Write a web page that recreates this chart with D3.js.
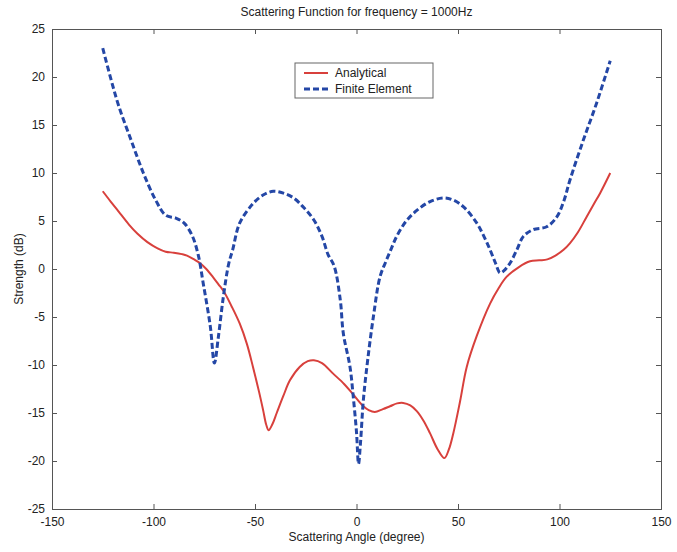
<!DOCTYPE html>
<html><head><meta charset="utf-8">
<script src="https://cdn.jsdelivr.net/npm/d3@7"></script>
<style>body{margin:0;background:#fff}svg{display:block}text{font-family:"Liberation Sans",Arial,sans-serif;fill:#222}</style>
</head><body>
<script>
const xTicks = [-150,-100,-50,0,50,100,150];
const yTicks = [-25,-20,-15,-10,-5,0,5,10,15,20,25];
const seriesNames = ["Analytical","Finite Element"];
const analyticalX = [-125,-121,-116.5,-112,-108,-103,-98,-94,-90,-86,-83.5,-80,-77,-74,-70.5,-68,-65.5,-61.5,-57.5,-54,-51,-48,-46,-44.5,-43.3,-41.5,-39.3,-36,-32.8,-28,-24,-21,-17,-11.5,-6,-1.5,3.4,6,9,13,16.5,20,23,26.5,29.7,33,36.2,40,43.3,45.5,47.7,51,54.3,59.2,65.8,70,74,80,85.5,90,94,98,102,105.2,109,113.4,117,120,125];
const analyticalY = [8.1,7.0,5.8,4.6,3.7,2.8,2.15,1.8,1.7,1.55,1.4,1.0,0.6,0.0,-0.9,-1.6,-2.3,-3.9,-5.7,-7.8,-10.2,-12.8,-14.7,-16.2,-16.8,-16.2,-15.0,-13.2,-11.6,-10.2,-9.6,-9.5,-9.8,-10.9,-12.0,-13.1,-14.3,-14.7,-14.9,-14.6,-14.3,-14.0,-13.95,-14.2,-14.8,-15.8,-17.1,-18.8,-19.7,-18.8,-17.1,-13.8,-10.2,-7.0,-3.6,-2.0,-0.8,0.2,0.8,0.9,1.0,1.4,2.0,2.7,3.8,5.45,6.8,7.9,10.0];
const feX = [-125,-121,-117,-111,-105,-99,-94,-89,-85,-81,-78,-75.5,-72,-70,-68,-65.6,-63,-61,-57.5,-51,-46,-41,-36,-31,-26,-21,-17,-14,-11,-8,-6.5,-3.2,-1.6,0,1,2,3.4,5.5,8.3,11.6,14.5,17.3,19.8,24.5,29.7,36,42.8,47.5,52.6,59.2,63,65.8,68.5,70.7,72.5,75.6,79,82.2,87,93.7,98.6,102,105.2,111.7,118.3,125];
const feY = [23.0,19.8,16.9,13.4,10.0,7.2,5.6,5.3,4.8,3.5,1.5,-1.5,-6.0,-9.8,-7.0,-2.9,0.5,2.0,4.8,6.8,7.7,8.1,7.9,7.4,6.4,5.1,3.4,1.5,0.3,-3.2,-6.7,-10.2,-13.3,-17.0,-20.3,-18.0,-13.6,-9.5,-5.0,-0.8,0.8,2.2,3.4,5.0,6.1,7.0,7.4,7.2,6.5,4.8,3.3,2.0,0.6,-0.4,-0.2,0.6,2.0,3.4,4.1,4.4,5.4,7.0,9.3,13.4,17.3,21.7];

const W=677,H=552, L=52, R=661, T=29, B=509;
const svg=d3.select("body").append("svg").attr("width",W).attr("height",H);
svg.append("rect").attr("width",W).attr("height",H).attr("fill","#fff");
const x=d3.scaleLinear().domain([-150,150]).range([L,R]);
const y=d3.scaleLinear().domain([-25,25]).range([B,T]);

const axisColor="#555";
const tick=5;
const g=svg.append("g");
g.append("g").attr("transform",`translate(0,${B})`).call(d3.axisBottom(x).tickValues(xTicks).tickSize(-tick).tickPadding(8).tickFormat(d=>d));
g.append("g").attr("transform",`translate(0,${T})`).call(d3.axisTop(x).tickValues(xTicks).tickSize(-tick).tickFormat(""));
g.append("g").attr("transform",`translate(${L},0)`).call(d3.axisLeft(y).tickValues(yTicks).tickSize(-tick).tickPadding(7).tickFormat(d=>d));
g.append("g").attr("transform",`translate(${R},0)`).call(d3.axisRight(y).tickValues(yTicks).tickSize(-tick).tickFormat(""));
g.selectAll(".domain").attr("stroke",axisColor).attr("stroke-width",1);
g.selectAll(".tick line").attr("stroke",axisColor);
g.selectAll(".tick text").attr("font-size",12).attr("fill","#222").style("font-family","'Liberation Sans',Arial,sans-serif");

const line=d3.line().x(d=>x(d[0])).y(d=>y(d[1])).curve(d3.curveCatmullRom.alpha(0.5));
const aData=analyticalX.map((v,i)=>[v,analyticalY[i]]);
const fData=feX.map((v,i)=>[v,feY[i]]);
svg.append("path").datum(aData).attr("d",line).attr("fill","none").attr("stroke","#d8403c").attr("stroke-width",2);
svg.append("path").datum(fData).attr("d",line).attr("fill","none").attr("stroke","#2447a6").attr("stroke-width",3).attr("stroke-dasharray","6,3");

// title and labels
svg.append("text").attr("x",(L+R)/2).attr("y",16).attr("text-anchor","middle").attr("font-size",12).text("Scattering Function for frequency = 1000Hz");
svg.append("text").attr("x",(L+R)/2).attr("y",541).attr("text-anchor","middle").attr("font-size",12).text("Scattering Angle (degree)");
svg.append("text").attr("transform",`translate(23,${(T+B)/2}) rotate(-90)`).attr("text-anchor","middle").attr("font-size",12).text("Strength (dB)");

// legend
const lg=svg.append("g");
lg.append("rect").attr("x",295).attr("y",63).attr("width",138).attr("height",35).attr("fill","#fff").attr("stroke","#666").attr("stroke-width",1);
const items=[{n:seriesNames[0],c:"#d8403c",w:2,d:null},{n:seriesNames[1],c:"#2447a6",w:3,d:"6,3"}];
items.forEach((it,i)=>{
  const yy=73+i*16;
  const ln=lg.append("line").attr("x1",304).attr("x2",328).attr("y1",yy).attr("y2",yy).attr("stroke",it.c).attr("stroke-width",it.w);
  if(it.d) ln.attr("stroke-dasharray",it.d);
  lg.append("text").attr("x",335).attr("y",yy+4).attr("font-size",12).text(it.n);
});
</script>
</body></html>
